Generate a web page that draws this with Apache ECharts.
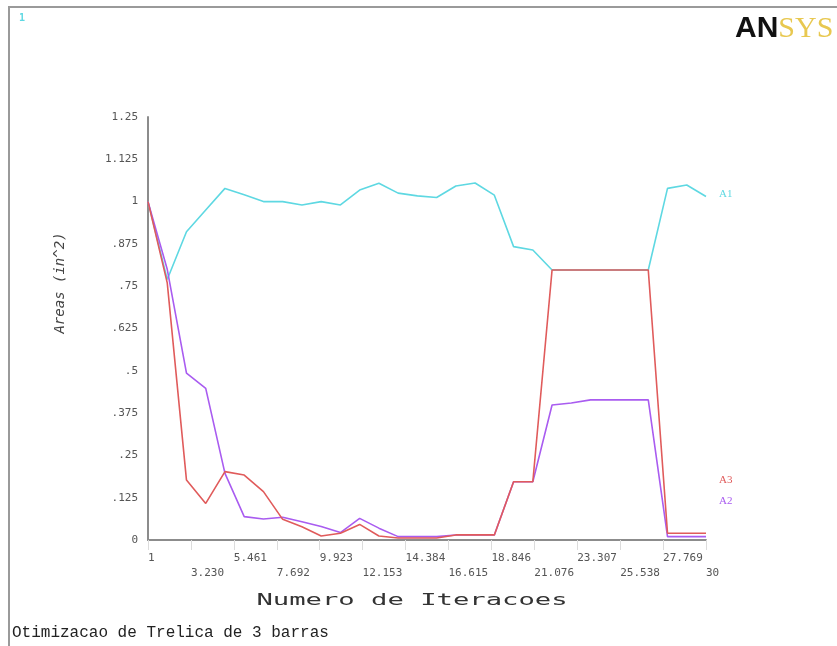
<!DOCTYPE html>
<html><head><meta charset="utf-8">
<script src="https://cdn.jsdelivr.net/npm/echarts@6/dist/echarts.min.js"></script>
<style>html,body{margin:0;padding:0;background:#fff}#c{width:837px;height:646px}</style>
</head><body><div id="c"></div>
<script>
const iterations = [1,2,3,4,5,6,7,8,9,10,11,12,13,14,15,16,17,18,19,20,21,22,23,24,25,26,27,28,29,30];
const areaA1 = [1.0,0.77,0.911,0.975,1.039,1.02,1.0,1.0,0.99,1.0,0.99,1.034,1.054,1.025,1.017,1.012,1.046,1.055,1.019,0.867,0.857,0.798,0.798,0.798,0.798,0.798,0.798,1.039,1.049,1.015];
const areaA3 = [1.0,0.76,0.177,0.108,0.202,0.192,0.143,0.061,0.039,0.012,0.02,0.046,0.012,0.006,0.006,0.006,0.015,0.015,0.015,0.172,0.172,0.798,0.798,0.798,0.798,0.798,0.798,0.02,0.02,0.02];
const areaA2 = [1.0,0.80,0.493,0.448,0.197,0.069,0.062,0.067,0.054,0.04,0.022,0.064,0.035,0.01,0.01,0.01,0.015,0.015,0.015,0.172,0.172,0.399,0.405,0.414,0.414,0.414,0.414,0.01,0.01,0.01];
const xTickLabels = ['1','3.230','5.461','7.692','9.923','12.153','14.384','16.615','18.846','21.076','23.307','25.538','27.769','30'];
const yTickLabels = ['0','.125','.25','.375','.5','.625','.75','.875','1','1.125','1.25'];
const seriesNames = ['A1','A2','A3'];
const seriesColors = {A1:'#5ed8e2', A2:'#a95cf0', A3:'#e05b5b'};

const xTickValues = xTickLabels.map(Number);
const seriesData = {A1: areaA1, A2: areaA2, A3: areaA3};

const chart = echarts.init(document.getElementById('c'));
const mono = "'DejaVu Sans Mono', monospace";
chart.setOption({
  animation: false,
  backgroundColor: '#fff',
  grid: {left: 148, right: 131, top: 117, bottom: 106, containLabel: false, outerBoundsMode: 'none'},
  xAxis: {
    type: 'value', min: 1, max: 30,
    axisLine: {show: true, lineStyle: {color: '#8c8c8c', width: 2}},
    axisTick: {show: true, length: 10, customValues: xTickValues, lineStyle: {color: '#dcdcdc'}},
    splitLine: {show: false},
    axisLabel: {
      customValues: xTickValues,
      align: 'left', verticalAlign: 'top', margin: 11, lineHeight: 15,
      fontFamily: mono, fontSize: 11, color: '#555',
      formatter: function (v) {
        let idx = 0, best = 1e9;
        xTickValues.forEach((t, i) => { const d = Math.abs(t - v); if (d < best) { best = d; idx = i; } });
        return idx % 2 === 0 ? xTickLabels[idx] : '\n' + xTickLabels[idx];
      }
    }
  },
  yAxis: {
    type: 'value', min: 0, max: 1.25, interval: 0.125,
    axisLine: {show: true, lineStyle: {color: '#8c8c8c', width: 2}},
    axisTick: {show: false},
    splitLine: {show: false},
    axisLabel: {
      margin: 10, fontFamily: mono, fontSize: 11, color: '#555',
      formatter: function (v) { return yTickLabels[Math.round(v / 0.125)]; }
    }
  },
  series: seriesNames.map(n => ({
    name: n, type: 'line', symbol: 'none', z: n === 'A3' ? 4 : (n === 'A2' ? 3 : 2),
    lineStyle: {color: seriesColors[n], width: 1.6},
    data: iterations.map((x, i) => [x, seriesData[n][i]])
  })),
  graphic: [
    {type: 'rect', shape: {x: 9, y: 7, width: 840, height: 650}, style: {fill: 'none', stroke: '#9a9a9a', lineWidth: 2}, silent: true},
    {type: 'text', x: 19, y: 13, style: {text: '1', fill: '#5ed8e2', font: "bold 10px 'DejaVu Sans Mono'"}},
    {type: 'text', x: 735, y: 14, style: {
      text: '{a|AN}{b|SYS}',
      rich: {
        a: {fontFamily: "'Liberation Sans'", fontWeight: 900, fontSize: 30, fill: '#111'},
        b: {fontFamily: "'Liberation Serif'", fontSize: 30, fill: '#e8c850'}
      }
    }},
    {type: 'text', x: 719, y: 189, style: {text: 'A1', fill: '#5ed8e2', font: "11px 'Liberation Serif'"}},
    {type: 'text', x: 719, y: 475, style: {text: 'A3', fill: '#e05b5b', font: "11px 'Liberation Serif'"}},
    {type: 'text', x: 719, y: 496, style: {text: 'A2', fill: '#a95cf0', font: "11px 'Liberation Serif'"}},
    {type: 'text', x: 412, y: 601, scaleX: 1.7, style: {text: 'Numero de Iteracoes', fill: '#333', font: "16px 'DejaVu Sans Mono'", align: 'center', verticalAlign: 'middle'}},
    {type: 'text', x: 60, y: 283, rotation: Math.PI / 2, style: {text: 'Areas (in^2)', fill: '#444', font: "italic 14px 'DejaVu Sans Mono'", align: 'center', verticalAlign: 'middle'}},
    {type: 'text', x: 12, y: 633, style: {text: 'Otimizacao de Trelica de 3 barras', fill: '#222', font: "16px 'Liberation Mono'", verticalAlign: 'middle'}}
  ]
});
</script></body></html>
